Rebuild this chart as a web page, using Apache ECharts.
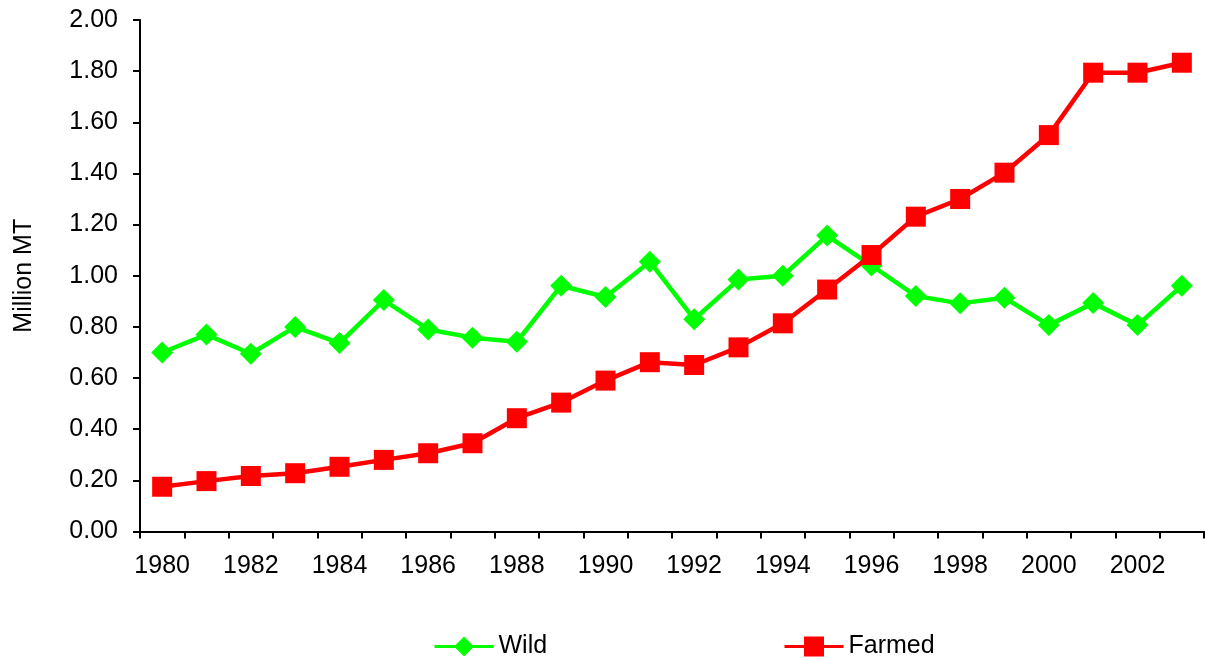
<!DOCTYPE html>
<html>
<head>
<meta charset="utf-8">
<title>Wild vs Farmed</title>
<script src="https://cdn.jsdelivr.net/npm/echarts@6/dist/echarts.min.js"></script>
<style>
  html, body { margin: 0; padding: 0; background: #fff; }
  #chart { width: 1206px; height: 660px; }
</style>
</head>
<body>
<div id="chart"></div>
<script>
// Annual production, million metric tonnes
const years = ['1980','1981','1982','1983','1984','1985','1986','1987','1988','1989','1990','1991',
               '1992','1993','1994','1995','1996','1997','1998','1999','2000','2001','2002','2003'];
const wild = [0.70, 0.77, 0.695, 0.80, 0.737, 0.905, 0.79, 0.758, 0.742, 0.961, 0.917, 1.055,
              0.83, 0.985, 1.00, 1.157, 1.04, 0.921, 0.892, 0.914, 0.807, 0.893, 0.807, 0.961];
const farmed = [0.175, 0.197, 0.217, 0.228, 0.253, 0.28, 0.306, 0.345, 0.443, 0.504, 0.59, 0.662,
                0.651, 0.72, 0.814, 0.946, 1.081, 1.231, 1.30, 1.403, 1.55, 1.794, 1.794, 1.833];
const yTicks = { min: 0, max: 2, step: 0.2 };

const FONT = '"Liberation Sans", Arial, sans-serif';
const FS = 25;

const legendCommon = {
  itemWidth: 59, itemHeight: 25, itemGap: 0, padding: 0,
  lineStyle: { width: 3 },
  textStyle: { fontFamily: FONT, fontSize: FS, color: '#000' }
};

const chart = echarts.init(document.getElementById('chart'), null, { renderer: 'canvas' });
chart.setOption({
  animation: false,
  backgroundColor: '#ffffff',
  textStyle: { fontFamily: FONT, color: '#000' },
  grid: { left: 140, right: 2, top: 20, bottom: 128.5, containLabel: false },
  legend: [
    Object.assign({ data: ['Wild'], left: 433, top: 634 }, legendCommon),
    Object.assign({ data: ['Farmed'], left: 783, top: 634 }, legendCommon)
  ],
  xAxis: {
    type: 'category',
    data: years,
    boundaryGap: true,
    axisLine: { lineStyle: { color: '#000', width: 2 } },
    axisTick: { show: true, interval: 0, length: 7, inside: false, lineStyle: { color: '#000', width: 2 } },
    axisLabel: { interval: 1, margin: 22, fontFamily: FONT, fontSize: FS, color: '#000' },
    splitLine: { show: false }
  },
  yAxis: {
    type: 'value',
    min: yTicks.min, max: yTicks.max, interval: yTicks.step,
    name: 'Million MT',
    nameLocation: 'middle',
    nameRotate: 90,
    nameGap: 103,
    nameTextStyle: { fontFamily: FONT, fontSize: FS, color: '#000' },
    axisLine: { show: true, lineStyle: { color: '#000', width: 2 } },
    axisTick: { show: true, length: 7, lineStyle: { color: '#000', width: 2 } },
    axisLabel: { margin: 22, fontFamily: FONT, fontSize: FS, color: '#000',
                 formatter: v => v.toFixed(2) },
    splitLine: { show: false }
  },
  series: [
    {
      name: 'Wild', type: 'line', data: wild,
      symbol: 'diamond', symbolSize: 22,
      lineStyle: { color: '#00ff00', width: 4.5 },
      itemStyle: { color: '#00ff00' },
      z: 2
    },
    {
      name: 'Farmed', type: 'line', data: farmed,
      symbol: 'rect', symbolSize: 20,
      lineStyle: { color: '#ff0000', width: 4.5 },
      itemStyle: { color: '#ff0000' },
      z: 3
    }
  ]
});
</script>
</body>
</html>
